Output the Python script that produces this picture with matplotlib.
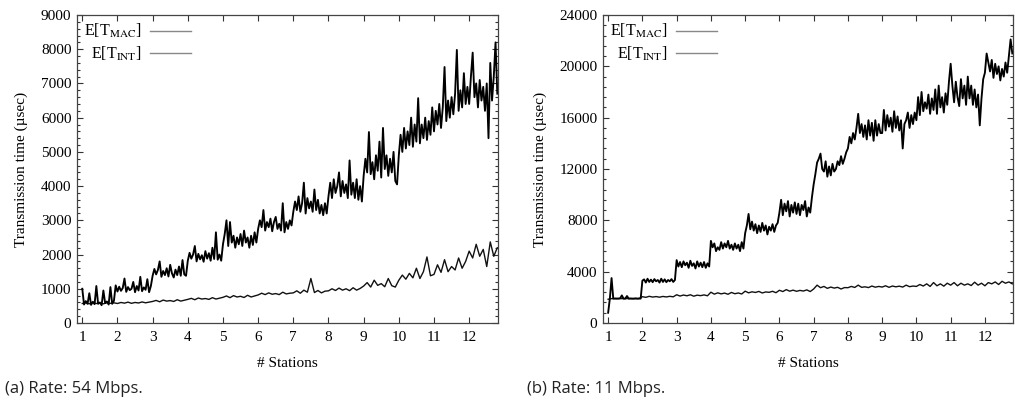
import numpy as np
import matplotlib
matplotlib.use("Agg")
import matplotlib.pyplot as plt
from matplotlib.ticker import MultipleLocator

plt.rcParams['font.family'] = ['Liberation Serif', 'DejaVu Serif']
plt.rcParams['mathtext.fontset'] = 'stix'

# ---------------- data ----------------
# MAC series sampled every 0.05 station, INT series every 0.1 station
# (a) 54 Mbps
mac_54 = [
    1000, 540, 640, 560, 870, 530, 620, 550, 1080, 560, 600, 520, 950, 580, 630, 540, 1050, 560, 650, 1100,
    920, 1060, 940, 1020, 1300, 910, 1050, 960, 1000, 1200, 900, 1080, 950, 1350, 930, 1040, 970, 1280, 900, 1080,
    1380, 1580, 1420, 1550, 1800, 1350, 1520, 1400, 1600, 1360, 1700, 1450, 1330, 1560, 1400, 1650, 1380, 1840, 1420, 1380,
    1820, 2050, 1880, 2000, 2250, 1800, 2020, 1860, 1980, 1790, 2100, 1880, 2040, 1820, 2200, 1870, 2650, 1850, 2000, 1820,
    2300, 2600, 3000, 2250, 2950, 2350, 2550, 2200, 2500, 2300, 2600, 2250, 2700, 2350, 2500, 2200, 2550, 2280, 2650, 2350,
    2750, 3000, 2800, 3300, 2700, 2950, 2800, 3050, 2680, 2950, 3100, 2750, 2900, 2700, 3500, 2650, 2950, 2750, 3000, 2850,
    3250, 3550, 3300, 3700, 3250, 3500, 4100, 3200, 3650, 3350, 3550, 3250, 3900, 3300, 3600, 3200, 3450, 3150, 3500, 3200,
    3700, 4100, 3650, 4200, 3800, 4000, 4400, 3700, 4150, 3800, 4050, 3650, 4750, 3750, 4100, 3650, 4200, 3600, 4000, 3550,
    4300, 4800, 4400, 5580, 4350, 4700, 4200, 4900, 4450, 5300, 4250, 5700, 4500, 4900, 4300, 4800, 4400, 5000, 4150, 4050,
    4900, 5500, 5000, 5700, 5100, 5600, 5200, 6000, 5150, 5800, 5300, 6570, 5250, 5800, 5400, 6000, 5350, 5900, 5500, 6300,
    5600, 6200, 5800, 6400, 5700, 6300, 7480, 5900, 6500, 6000, 6600, 6100, 6700, 7980, 6200, 6800, 6300, 7300, 6400, 6900,
    6400, 7200, 7900, 6600, 7000, 6300, 7100, 6500, 6900, 6200, 7000, 5400, 7600, 6500, 7200, 8200, 6700,
]
int_54 = [
    570, 590, 560, 600, 570, 585, 560, 595, 575, 590,
    570, 600, 580, 610, 575, 600, 585, 615, 590, 610,
    630, 660, 620, 670, 640, 655, 630, 680, 640, 665,
    690, 720, 680, 730, 700, 715, 690, 740, 700, 725,
    750, 790, 740, 800, 760, 780, 745, 810, 760, 790,
    820, 870, 830, 880, 840, 860, 830, 900, 850, 870,
    880, 940, 870, 960, 900, 1300, 890, 950, 880, 930,
    940, 1000, 950, 1020, 960, 1000, 945, 1030, 960, 1010,
    1080, 1180, 1050, 1250, 1100, 1150, 1060, 1300, 1090, 1050,
    1250, 1400, 1280, 1450, 1320, 1600, 1300, 1500, 1930, 1380,
    1420, 1700, 1480, 1850, 1500, 1650, 1550, 1900, 1600, 1800,
    2100, 1900, 2300, 1950, 2150, 1650, 2370, 1950, 2200,
]
# (b) 11 Mbps
mac_11 = [
    800, 1900, 3500, 1900, 1910, 1900, 1900, 1920, 2150, 1900, 1900, 2100, 1900, 1910, 1900, 1900, 1920, 1900, 1910, 1900,
    3300, 3400, 3150, 3450, 3200, 3380, 3180, 3420, 3250, 3350, 3150, 3450, 3200, 3400, 3180, 3350, 3250, 3420, 3200, 3350,
    4900, 4400, 4750, 4350, 4800, 4500, 4700, 4300, 4850, 4450, 4650, 4250, 4800, 4400, 4700, 4350, 4750, 4300, 4650, 4400,
    6400, 5900, 6200, 5600, 5900, 5700, 6300, 5800, 6200, 5900, 6400, 5800, 6100, 5700, 6200, 5800, 6100, 5600, 6300, 5800,
    7000, 7600, 8500, 7300, 7900, 7200, 7700, 7000, 7600, 7100, 7800, 7200, 7600, 6900, 7500, 7200, 7700, 7100, 7600, 7800,
    8600, 9600, 8400, 9300, 8700, 9500, 8300, 9200, 8600, 9400, 8500, 9300, 8400, 9200, 8800, 9500, 8300, 9000, 8600, 9800,
    10800, 11600, 12500, 12800, 13200, 12000, 11800, 12600, 11400, 12200, 11500, 12400, 11800, 12000, 12600, 12300, 13000, 12400, 12800, 13300,
    13600, 14500, 14000, 14800, 14300, 15200, 16300, 14800, 15500, 14500, 15400, 14300, 15800, 14600, 15600, 14200, 15800, 14600, 15500, 14800,
    14800, 16600, 15000, 16200, 15300, 16000, 14900, 16500, 15200, 16100, 15000, 15800, 13600, 15500, 15800, 16400, 15200, 16200, 15500, 16400,
    15800, 17600, 16200, 18000, 16500, 17200, 16700, 17800, 16300, 17500, 16600, 18200, 16300, 18500, 16800, 17600, 16400, 17900, 17000, 18800,
    20200, 18500, 17200, 18800, 17600, 16900, 19000, 17500, 18500, 17000, 19200, 17500, 18500, 17000, 18200, 16800, 17800, 15400, 17500, 19000,
    19500, 21000, 20300, 19600, 20500, 19100, 20200, 19400, 20000, 18900, 19800, 19200, 20300, 19500, 20800, 22100, 21000,
]
int_11 = [
    1850, 1900, 1900, 1910, 1900, 1900, 1905, 1900, 1900, 1900,
    2050, 2000, 2080, 2020, 2060, 2010, 2070, 2030, 2080, 2040,
    2200, 2100, 2180, 2120, 2200, 2090, 2170, 2130, 2190, 2120,
    2400, 2250, 2350, 2270, 2330, 2240, 2380, 2280, 2340, 2260,
    2480, 2350, 2430, 2380, 2460, 2340, 2420, 2390, 2470, 2360,
    2550, 2450, 2600, 2480, 2560, 2470, 2540, 2490, 2580, 2450,
    2650, 2950, 2750, 2850, 2700, 2800, 2720, 2780, 2650, 2760,
    2750, 2850, 2770, 2950, 2780, 2820, 2760, 2880, 2790, 2850,
    2800, 2900, 2780, 2880, 2820, 2870, 2800, 2950, 2830, 2880,
    2850, 3000, 2880, 3050, 2850, 3150, 2900, 3050, 2870, 3100,
    2950, 3150, 2900, 3100, 2950, 3050, 2920, 3180, 2950, 3100,
    2900, 3150, 3050, 3200, 3000, 3250, 3100, 3200, 3050,
]
x_ticks = list(range(1, 13))
labels = ['E[T$_{\\mathrm{MAC}}$]', 'E[T$_{\\mathrm{INT}}$]']
captions = ['(a) Rate: 54 Mbps.', '(b) Rate: 11 Mbps.']

st_fine = np.linspace(1.0, 12.8, len(mac_54))
st_coarse = np.linspace(1.0, 12.8, len(int_54))

W, H = 1015, 401
fig = plt.figure(figsize=(W / 100, H / 100), dpi=100)

def px_axes(x0, x1, ytop, ybot):
    return fig.add_axes([x0 / W, 1 - ybot / H, (x1 - x0) / W, (ybot - ytop) / H])

panels = [
    dict(rect=(77, 498, 15, 323), mac=mac_54, intr=int_54, ymax=9000, major=1000, minor=200,
         cap_x=5),
    dict(rect=(603, 1013, 15, 323), mac=mac_11, intr=int_11, ymax=24000, major=4000, minor=800,
         cap_x=527),
]

FS = 11
for p, cap in zip(panels, captions):
    ax = px_axes(*p['rect'])
    ax.plot(st_coarse, p['intr'], color='#111111', lw=1.0, label=labels[1])
    ax.plot(st_fine, p['mac'], color='#000000', lw=1.35, label=labels[0])
    ax.set_xlim(0.85, 12.82)
    ax.set_ylim(0, p['ymax'])
    ax.set_xticks(x_ticks)
    ax.yaxis.set_major_locator(MultipleLocator(p['major']))
    ax.yaxis.set_minor_locator(MultipleLocator(p['minor']))
    ax.tick_params(axis='both', which='both', direction='in', top=True, right=True,
                   labelsize=FS, width=0.8, color='#333333')
    ax.tick_params(axis='both', which='major', length=4)
    ax.tick_params(axis='x', which='major', pad=6)
    ax.tick_params(axis='y', which='major', pad=4)
    ax.tick_params(axis='y', which='minor', length=2)
    for s in ax.spines.values():
        s.set_linewidth(0.9)
        s.set_color('#444444')
    ax.set_xlabel('# Stations', fontsize=FS, labelpad=9)
    ax.set_ylabel('Transmission time (µsec)', fontsize=FS, labelpad=9)
    h, l = ax.get_legend_handles_labels()
    leg = ax.legend(h[::-1], l[::-1], loc='upper left', frameon=False, markerfirst=False,
                    fontsize=11.5, handlelength=2.6, handletextpad=0.5, labelspacing=0.3,
                    borderaxespad=0.0, borderpad=0.45)
    for lh in leg.get_lines():
        lh.set_color('#888888')
        lh.set_linewidth(1.0)
    fig.text(p['cap_x'] / W, 1 - 389 / H, cap, fontsize=12, family='Open Sans',
             va='center', ha='left', color='#222222')

fig.savefig('out.png', dpi=100)
